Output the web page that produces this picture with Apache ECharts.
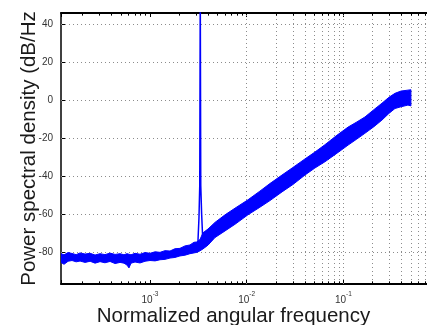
<!DOCTYPE html>
<html><head><meta charset="utf-8">
<script src="https://cdn.jsdelivr.net/npm/echarts@6/dist/echarts.min.js"></script>
<style>html,body{margin:0;padding:0;background:#fff}#c{width:427px;height:325px}</style>
</head><body><div id="c"></div>
<script>
// ---- data ----
const bandFreq = [1.2e-4, 1.29e-4, 1.42e-4, 1.56e-4, 1.72e-4, 1.89e-4, 2.13e-4, 2.40e-4, 2.70e-4, 3.04e-4,
  3.42e-4, 3.86e-4, 4.35e-4, 4.90e-4, 5.38e-4, 5.78e-4, 6.06e-4, 6.36e-4, 7.00e-4, 7.88e-4,
  8.88e-4, 1.0e-3, 1.13e-3, 1.27e-3, 1.43e-3, 1.61e-3, 1.81e-3, 2.04e-3, 2.30e-3, 2.59e-3,
  2.85e-3, 3.06e-3, 3.29e-3, 3.53e-3, 3.98e-3, 4.70e-3, 5.97e-3, 7.57e-3, 1.03e-2, 1.37e-2,
  1.74e-2, 2.32e-2, 3.01e-2, 4.01e-2, 5.08e-2, 6.45e-2, 8.59e-2, 0.112, 0.138, 0.167,
  0.207, 0.251, 0.296, 0.342, 0.394, 0.466, 0.5];
const bandUpper = [-81.0, -81.6, -80.4, -80.9, -81.5, -80.6, -81.2, -80.8, -81.7, -81.0,
  -81.5, -80.7, -81.4, -81.0, -81.6, -81.0, -81.3, -81.6, -80.8, -81.3,
  -80.4, -80.8, -80.0, -80.3, -79.4, -79.6, -78.4, -78.2, -76.9, -76.4,
  -75.0, -74.8, -73.5, -70.0, -68.0, -64.5, -60.5, -57.0, -52.6, -48.0,
  -44.0, -39.5, -35.5, -31.0, -27.4, -23.5, -18.5, -14.2, -11.5, -8.9,
  -5.0, -1.6, 1.5, 3.6, 4.8, 5.3, 5.5];
const bandLower = [-85.6, -86.6, -85.0, -84.6, -85.3, -84.9, -85.6, -85.0, -86.0, -85.2,
  -85.8, -85.1, -86.2, -85.6, -86.0, -87.0, -88.5, -86.0, -85.4, -85.9,
  -85.0, -84.6, -84.8, -84.2, -84.0, -83.3, -83.0, -82.2, -81.8, -81.0,
  -80.6, -80.3, -79.5, -78.5, -76.5, -72.5, -69.0, -65.5, -60.5, -56.5,
  -53.0, -48.4, -44.5, -39.5, -35.8, -32.5, -28.0, -23.7, -20.5, -17.5,
  -14.0, -10.5, -7.0, -4.4, -3.5, -2.6, -3.0];
const spikeFreq = [3.10e-3, 3.21e-3, 3.27e-3, 3.31e-3, 3.35e-3, 3.42e-3, 3.53e-3];
const spikeLevel = [-80, -62, -45, 60, -45, -60, -76];
const xMajorTicks = [1e-3, 1e-2, 1e-1];
const xMinorTicks = [2e-4, 3e-4, 4e-4, 5e-4, 6e-4, 7e-4, 8e-4, 9e-4,
  2e-3, 3e-3, 4e-3, 5e-3, 6e-3, 7e-3, 8e-3, 9e-3,
  2e-2, 3e-2, 4e-2, 5e-2, 6e-2, 7e-2, 8e-2, 9e-2,
  2e-1, 3e-1, 4e-1, 5e-1, 6e-1, 7e-1, 8e-1, 9e-1];
const yTicks = [-80, -60, -40, -20, 0, 20, 40];
const xLabel = 'Normalized angular frequency';
const yLabel = 'Power spectral density (dB/Hz';

// ---- chart ----
const X_MIN = 1.2e-4, X_MAX = 1, Y_MIN = -97, Y_MAX = 46;
const FONT = '"Liberation Sans", Arial, Helvetica, sans-serif';
const chart = echarts.init(document.getElementById('c'), null, {renderer: 'canvas'});

const gridStyle = {color: '#8c8c8c', type: [1, 3], width: 1};
const tickStyle = {color: '#000', type: 'solid', width: 1};
const minorLen = 1.4;
const markData = [];
xMajorTicks.concat(xMinorTicks).forEach(f => markData.push({xAxis: f, lineStyle: gridStyle}));
yTicks.forEach(v => markData.push({yAxis: v, lineStyle: gridStyle}));
const tickData = [];
xMinorTicks.forEach(f => {
  tickData.push([{coord: [f, Y_MIN], lineStyle: tickStyle}, {coord: [f, Y_MIN + minorLen]}]);
  tickData.push([{coord: [f, Y_MAX], lineStyle: tickStyle}, {coord: [f, Y_MAX - minorLen]}]);
});

function xFmt(v) {
  const l = Math.log10(v);
  const e = Math.round(l);
  if (Math.abs(l - e) > 1e-6) return '';
  return '{b|10}{s|' + e + '}';
}

const axisCommon = {
  type: 'log', logBase: 10, min: X_MIN, max: X_MAX,
  axisLine: {show: true, onZero: false, lineStyle: {color: '#000', width: 2}},
  axisTick: {show: true, inside: true, length: 4, lineStyle: {color: '#000', width: 1}},
  splitLine: {show: false}, minorTick: {show: false}, minorSplitLine: {show: false}
};

chart.setOption({
  animation: false,
  backgroundColor: '#fff',
  grid: {left: 61, top: 13, right: -13, bottom: 41, containLabel: false, outerBoundsMode: 'none'},
  xAxis: [
    Object.assign({}, axisCommon, {
      position: 'bottom',
      name: xLabel, nameLocation: 'middle', nameGap: 22, nameMoveOverlap: false,
      nameTextStyle: {fontFamily: FONT, fontSize: 20.5, color: '#1a1a1a', padding: [0, 34, 0, 0]},
      axisLabel: {
        show: true, margin: 7, formatter: xFmt, showMinLabel: true, showMaxLabel: true,
        rich: {
          b: {fontFamily: FONT, fontSize: 10, color: '#333', lineHeight: 14, verticalAlign: 'bottom'},
          s: {fontFamily: FONT, fontSize: 6.5, color: '#333', lineHeight: 14, verticalAlign: 'top'}
        }
      }
    }),
    Object.assign({}, axisCommon, {position: 'top', axisLabel: {show: false}})
  ],
  yAxis: {
    type: 'value', min: Y_MIN, max: Y_MAX,
    name: yLabel, nameLocation: 'middle', nameGap: 21, nameMoveOverlap: false,
    nameTextStyle: {fontFamily: FONT, fontSize: 20.5, color: '#1a1a1a'},
    axisLine: {show: true, onZero: false, lineStyle: {color: '#000', width: 1.5}},
    axisTick: {show: true, inside: true, length: 4, customValues: yTicks, lineStyle: {color: '#000'}},
    axisLabel: {show: true, margin: 8, customValues: yTicks, fontFamily: FONT, fontSize: 10, color: '#333'},
    splitLine: {show: false}
  },
  series: [
    {
      type: 'custom', z: 3, clip: true, silent: true,
      data: bandFreq.map((f, i) => [f, bandUpper[i], bandLower[i]]),
      encode: {x: 0, y: [1, 2]},
      renderItem: function (params, api) {
        if (params.dataIndex !== 0) return null;
        const pts = [];
        for (let i = 0; i < bandFreq.length; i++) pts.push(api.coord([bandFreq[i], bandUpper[i]]));
        for (let i = bandFreq.length - 1; i >= 0; i--) pts.push(api.coord([bandFreq[i], bandLower[i]]));
        return {type: 'polygon', shape: {points: pts},
          style: {fill: '#0000ff', stroke: '#0000ff', lineWidth: 1}};
      }
    },
    {
      type: 'line', z: 4, clip: true, silent: true, symbol: 'none',
      data: spikeFreq.map((f, i) => [f, spikeLevel[i]]),
      lineStyle: {color: '#0000ff', width: 1.5},
      markLine: {
        silent: true, symbol: 'none', z: 1, animation: false,
        label: {show: false}, emphasis: {disabled: true},
        data: markData.concat(tickData)
      }
    }
  ]
});
</script></body></html>
